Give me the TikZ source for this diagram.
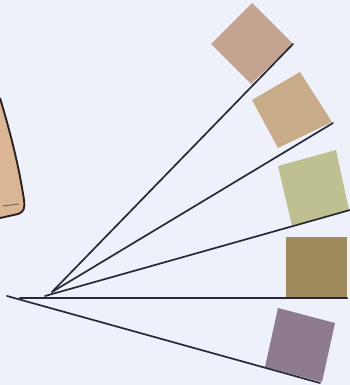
\documentclass[tikz,border=0pt]{standalone}
\usepackage{tikz}
\begin{document}
\begin{tikzpicture}[x=1pt,y=-1pt,
  ray/.style={draw=rayc,line width=1.7pt,line cap=round},
  chip/.style={draw=none}]
\definecolor{bgc}{HTML}{EEF0FA}
\definecolor{rayc}{HTML}{262938}
\definecolor{cA}{HTML}{C4A391}
\definecolor{cB}{HTML}{C8AB89}
\definecolor{cC}{HTML}{BEC092}
\definecolor{cD}{HTML}{9E8A5D}
\definecolor{cE}{HTML}{8E7B8F}
\definecolor{tanc}{HTML}{DBB694}
\definecolor{outc}{HTML}{2A2020}
\fill[bgc] (0,0) rectangle (350,385);
\useasboundingbox (0,0) rectangle (350,385);
% left partial shape
\fill[tanc] (0,98) .. controls (8,125) and (18,160) .. (24,200)
  .. controls (25,208) and (24,212) .. (18,214) -- (0,218) -- cycle;
\draw[outc,line width=1.9pt] (0,98) .. controls (8,125) and (18,160) .. (24,200)
  .. controls (25,208) and (24,212) .. (18,214) -- (0,218);
\draw[outc!70,line width=0.9pt] (3,206) -- (19,204);
% colour chips
\fill[chip,cA] (211,44) -- (252,3) -- (293,44) -- (251,84) -- cycle;
\fill[chip,cB] (252,100) -- (300,72) -- (332,122) -- (278,148) -- cycle;
\fill[chip,cC] (278,166) -- (336,150) -- (349,210) -- (292,226) -- cycle;
\fill[chip,cD] (286,237) rectangle (347,298);
\fill[chip,cE] (278,308) -- (335,323) -- (322,382) -- (265,367) -- cycle;
% ray end points
\coordinate (oA) at (52,292);
\coordinate (oB) at (52,292);
\coordinate (oC) at (45,296);
\coordinate (oD) at (20,298);
\coordinate (oE) at (7,296);
\coordinate (eA) at (293,44);
\coordinate (eB) at (333,123);
\coordinate (eC) at (350,210);
\coordinate (eD) at (347,298);
\coordinate (eE) at (320,383);
\draw[ray] (oA) -- (eA);
\draw[ray] (oB) -- (eB);
\draw[ray] (oC) -- (eC);
\draw[ray,line width=2.2pt] (oD) -- (eD);
\draw[ray] (oE) -- (eE);
\end{tikzpicture}
\end{document}
